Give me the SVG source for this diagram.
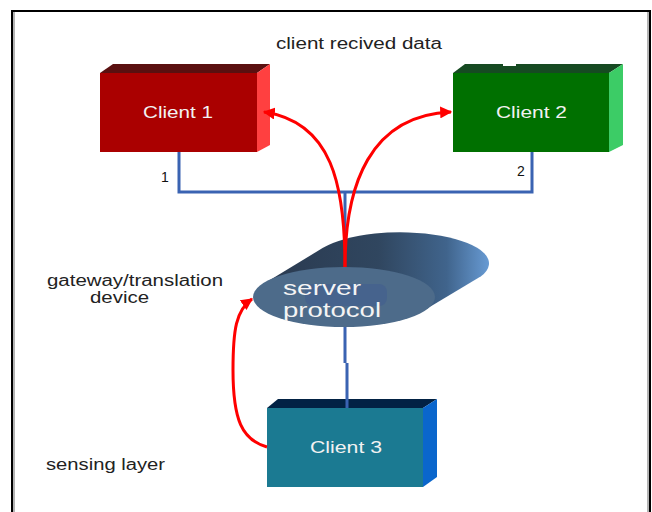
<svg xmlns="http://www.w3.org/2000/svg" width="652" height="512" viewBox="0 0 652 512">
  <style>
    .lbl { font-family: "Liberation Sans", Arial, sans-serif; font-size: 16px; fill: #222; }
    .box { font-family: "Liberation Sans", Arial, sans-serif; font-size: 16px; fill: #F2F2F2; }
    .num { font-family: "Liberation Sans", Arial, sans-serif; font-size: 14px; fill: #111; }
    .srv { font-family: "Liberation Sans", Arial, sans-serif; font-size: 20px; fill: #F4F4F4; }
    .link { fill: none; stroke: #3A63B2; stroke-width: 3; }
    .flow { fill: none; stroke: #FF0000; stroke-width: 3; }
  </style>
  <defs>
    <marker id="head" viewBox="0 0 10 10" refX="9" refY="5" markerWidth="4" markerHeight="4" orient="auto" markerUnits="strokeWidth">
      <path d="M0,0 L10,5 L0,10 z" fill="#FF0000"/>
    </marker>
    <linearGradient id="tube" gradientUnits="userSpaceOnUse" x1="265" y1="0" x2="492" y2="0">
      <stop offset="0" stop-color="#2A3A50"/>
      <stop offset="0.5" stop-color="#30465F"/>
      <stop offset="0.8" stop-color="#40648C"/>
      <stop offset="1" stop-color="#6A9ED8"/>
    </linearGradient>
  </defs>

  <rect width="652" height="512" fill="#FFFFFF"/>

  <!-- page frame (open at the bottom) -->
  <g id="frame" fill="none">
    <path d="M12,520 V11 H650 V520" stroke="#000" stroke-width="2"/>
    <line x1="14" y1="12" x2="14" y2="520" stroke="#9A9A9A" stroke-width="1.5"/>
    <line x1="648" y1="12" x2="648" y2="520" stroke="#9A9A9A" stroke-width="1.5"/>
  </g>

  <!-- free labels -->
  <g id="labels">
    <text class="lbl" x="276" y="49" textLength="166" lengthAdjust="spacingAndGlyphs">client recived data</text>
    <text class="lbl" x="47" y="286" textLength="176" lengthAdjust="spacingAndGlyphs">gateway/translation</text>
    <text class="lbl" x="90" y="303" textLength="59" lengthAdjust="spacingAndGlyphs">device</text>
    <text class="lbl" x="46" y="470" textLength="119" lengthAdjust="spacingAndGlyphs">sensing layer</text>
  </g>

  <!-- wiring between the clients and the server -->
  <g id="connectors">
    <path class="link" d="M179,152 V192 H532 V152"/>
    <path class="link" d="M345,192 V270"/>
    <path class="link" d="M345,325 V363 M347,363 V408"/>
    <text class="num" x="161" y="182">1</text>
    <text class="num" x="517" y="176">2</text>
  </g>

  <g id="client1">
    <rect x="100" y="73" width="157" height="79" fill="#AA0000"/>
    <polygon points="100,73 113,64 270,64 257,73" fill="#5A1010"/>
    <polygon points="257,73 270,64 270,145 257,152" fill="#FF4040"/>
    <text class="box" x="143" y="118" textLength="70" lengthAdjust="spacingAndGlyphs">Client 1</text>
  </g>

  <g id="client2">
    <rect x="453" y="73" width="156" height="79" fill="#007000"/>
    <polygon points="453,73 465,64 623,64 609,73" fill="#164A22"/>
    <polygon points="609,73 623,64 623,145 609,152" fill="#3CCC66"/>
    <rect x="503" y="63" width="13" height="3" fill="#FFFFFF"/>
    <text class="box" x="496" y="118" textLength="71" lengthAdjust="spacingAndGlyphs">Client 2</text>
  </g>

  <g id="client3">
    <rect x="267" y="408" width="156" height="79" fill="#1B7A92"/>
    <polygon points="267,408 278,399 437,399 423,408" fill="#022244"/>
    <polygon points="423,408 437,399 437,477 423,487" fill="#0A66CC"/>
    <path class="link" d="M347,399 V408"/>
    <text class="box" x="310" y="453" textLength="72" lengthAdjust="spacingAndGlyphs">Client 3</text>
  </g>

  <!-- server: slanted cylinder seen from its front cap -->
  <g id="server">
    <path d="M265,283 L323,247.8 A89,31 0 0 1 481,276.2 L423,311 Z" fill="url(#tube)"/>
    <ellipse cx="344" cy="297" rx="91" ry="30" fill="#4D6B8A"/>
    <rect x="305" y="284" width="82" height="22" rx="8" fill="#46638D"/>
    <text class="srv" x="283" y="295" textLength="78" lengthAdjust="spacingAndGlyphs">server</text>
    <text class="srv" x="283" y="317" textLength="98" lengthAdjust="spacingAndGlyphs">protocol</text>
  </g>

  <!-- data flows -->
  <g id="flows">
    <path class="flow" d="M345,267 C345,185 332,122 264,112" marker-end="url(#head)"/>
    <path class="flow" d="M345,267 C345,185 370,115 451,112" marker-end="url(#head)"/>
    <path class="flow" d="M267,447 C242,440 233,420 233,370 C233,330 236,310 252,299" marker-end="url(#head)"/>
  </g>
</svg>
